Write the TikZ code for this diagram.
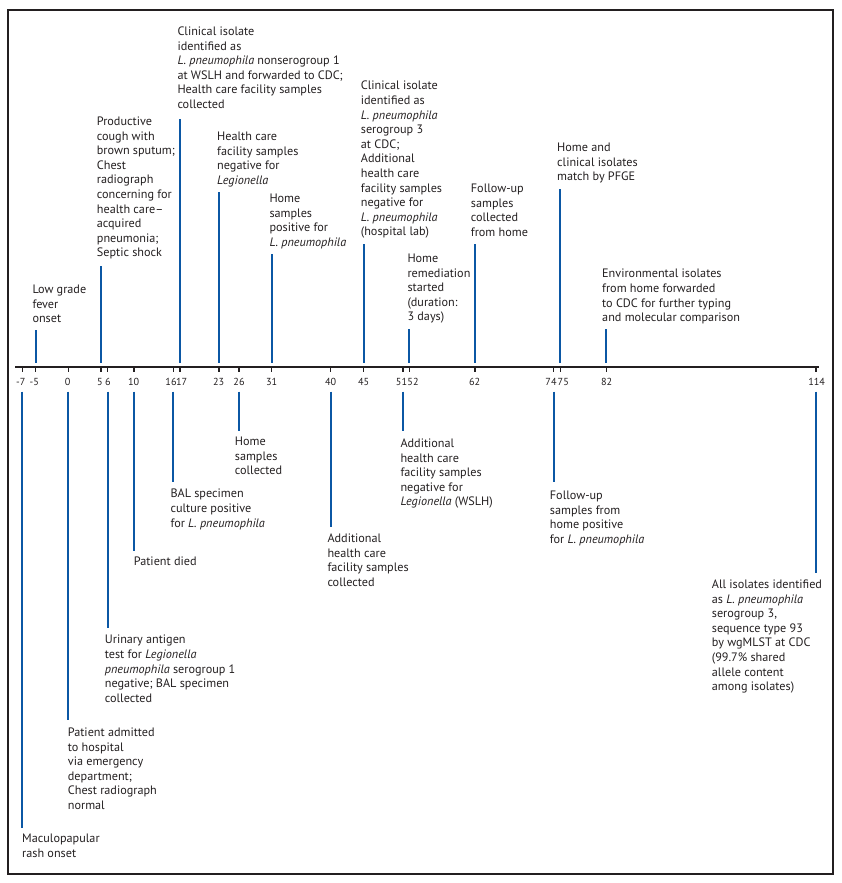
\documentclass[tikz,border=0pt]{standalone}
\usepackage{fontspec}
\setmainfont{PT Sans}
\definecolor{evblue}{HTML}{0B57A4}
\definecolor{inkc}{HTML}{231F20}
\newcommand\evup[6]{%
  \coordinate (#1a) at ({68.3+6.56*(#2)},362.7);
  \coordinate (#1b) at ({68.3+6.56*(#2)},#3);
  \node[evlabel] (#1) at (#4,{#5-5}) {#6};
  \draw[evline] (#1a) -- (#1b);}
\newcommand\evdown[6]{%
  \coordinate (#1a) at ({68.3+6.56*(#2)},391.7);
  \coordinate (#1b) at ({68.3+6.56*(#2)},#3);
  \node[evlabel] (#1) at (#4,{#5-5}) {#6};
  \draw[evline] (#1a) -- (#1b);}
\begin{document}
\begin{tikzpicture}[x=1pt,y=-1pt,
  evline/.style={draw=evblue,line width=2pt},
  evlabel/.style={anchor=north west,align=left,inner sep=0pt,text=inkc,
    font=\fontsize{12.2}{14.6}\selectfont,execute at begin node={\rule{0pt}{9pt}}},
  ticklabel/.style={anchor=base,inner sep=0pt,text=inkc,font=\fontsize{10.2}{12}\selectfont}]
\useasboundingbox (0,0) rectangle (841,883);
\draw[line width=2pt,inkc] (8,10) rectangle (832.5,874);
\coordinate (axL) at (15,366.7);
\coordinate (axR) at (819,366.7);
\draw[line width=1.6pt,inkc] (axL) -- (axR);
\foreach \d/\lx [count=\i] in {-7/20.7,-5/34.3,0/67.7,5/100,6/108,10/133.7,16/171,17/181.7,23/218.7,26/239,31/271.7,40/330.7,45/363.7,51/401.5,52/413,62/474.7,74/551,75/563.3,82/606.7,114/816.7} {
  \coordinate (t\i) at ({68.3+6.56*(\d)},366.7);
  \draw[line width=1.4pt,inkc] (t\i) -- ++(0,5);
  \node[ticklabel] (n\i) at (\lx,385.5) {\d};
}
% events above the axis
\evup{um5}{-5}{330}{32.3}{290}{Low grade\\fever\\onset}
\evup{u5}{5}{266}{96.7}{121.7}{Productive\\cough with\\brown sputum;\\Chest\\radiograph\\concerning for\\health care–\\acquired\\pneumonia;\\Septic shock}
\evup{u17}{17}{119}{177.3}{31.7}{Clinical isolate\\identified as\\\textit{L. pneumophila} nonserogroup 1\\at WSLH and forwarded to CDC;\\Health care facility samples\\collected}
\evup{u23}{23}{192}{217}{136.7}{Health care\\facility samples\\negative for\\\textit{Legionella}}
\evup{u31}{31}{254}{269.3}{199}{Home\\samples\\positive for\\\textit{L. pneumophila}}
\evup{u45}{45}{244}{360.7}{86}{Clinical isolate\\identified as\\\textit{L. pneumophila}\\serogroup 3\\at CDC;\\Additional\\health care\\facility samples\\negative for\\\textit{L. pneumophila}\\(hospital lab)}
\evup{u52}{52}{329.3}{407.3}{258.7}{Home\\remediation\\started\\(duration:\\3 days)}
\evup{u62}{62}{244.3}{470.7}{188.7}{Follow-up\\samples\\collected\\from home}
\evup{u75}{75}{189.3}{557}{147.7}{Home and\\clinical isolates\\match by PFGE}
\evup{u82}{82}{329.3}{602}{274}{Environmental isolates\\from home forwarded\\to CDC for further typing\\and molecular comparison}
% events below the axis
\evdown{dm7}{-7}{828.3}{22}{839}{Maculopapular\\rash onset}
\evdown{d0}{0}{720}{67.7}{732.7}{Patient admitted\\to hospital\\via emergency\\department;\\Chest radiograph\\normal}
\evdown{d6}{6}{627.7}{104.7}{640}{Urinary antigen\\test for \textit{Legionella}\\\textit{pneumophila} serogroup 1\\negative; BAL specimen\\collected}
\evdown{d10}{10}{550.7}{133.7}{561.7}{Patient died}
\evdown{d16}{16}{482.3}{170.3}{494}{BAL specimen\\culture positive\\for \textit{L. pneumophila}}
\evdown{d26}{26}{430.7}{234.7}{442}{Home\\samples\\collected}
\evdown{d40}{40}{526.7}{327.3}{538.7}{Additional\\health care\\facility samples\\collected}
\evdown{d51}{51}{430.7}{400.3}{443.7}{Additional\\health care\\facility samples\\negative for\\\textit{Legionella} (WSLH)}
\evdown{d74}{74}{482.3}{549.7}{496}{Follow-up\\samples from\\home positive\\for \textit{L. pneumophila}}
\evdown{d114}{114}{572.7}{711.7}{584.7}{All isolates identified\\as \textit{L. pneumophila}\\serogroup 3,\\sequence type 93\\by wgMLST at CDC\\(99.7\% shared\\allele content\\among isolates)}
\end{tikzpicture}
\end{document}
